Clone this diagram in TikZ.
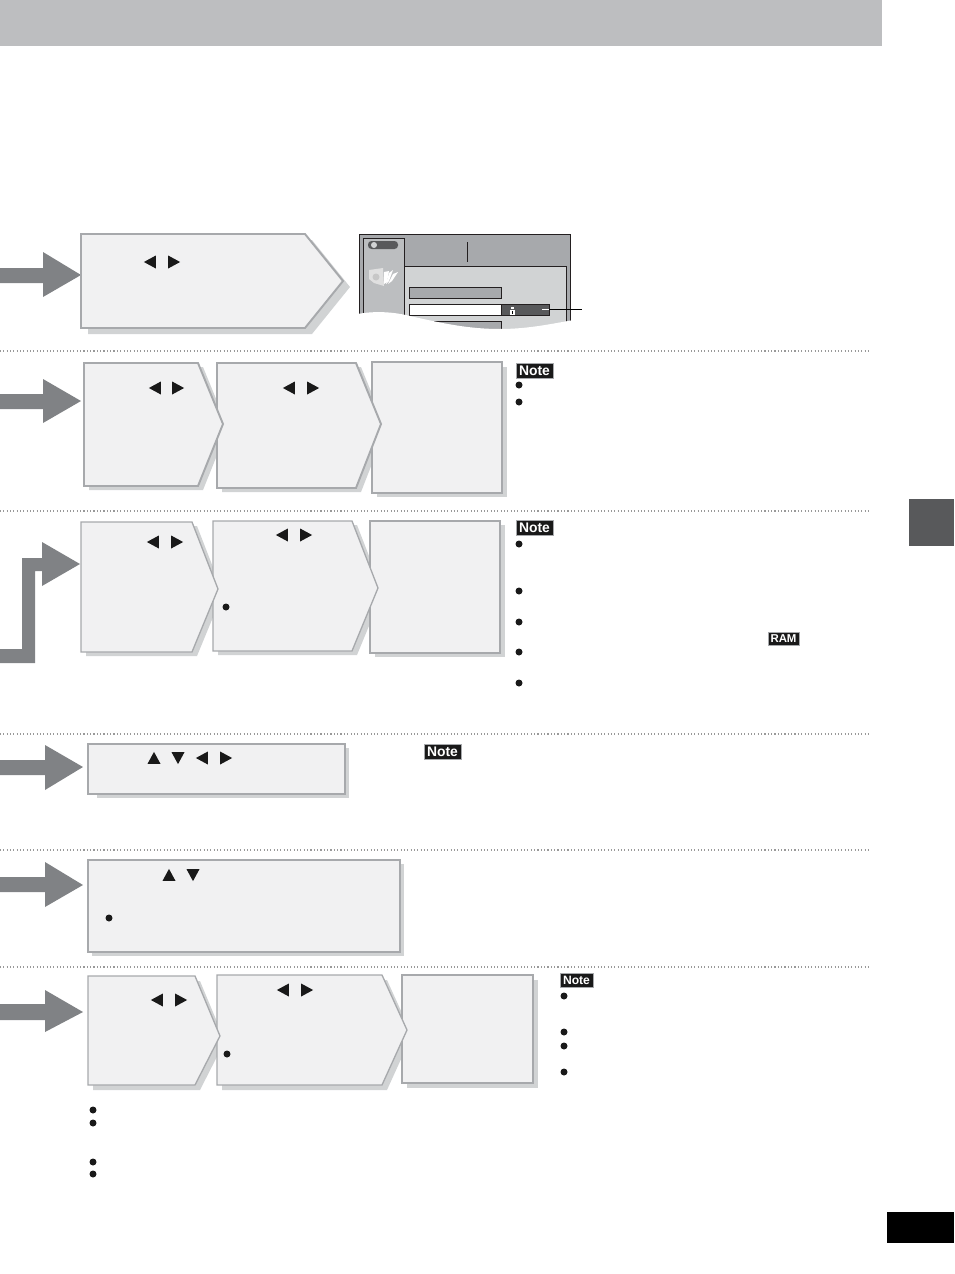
\documentclass[tikz,border=0pt]{standalone}
\usepackage{fontspec}
\setmainfont{Liberation Sans}
\usetikzlibrary{shapes.geometric}
\definecolor{bandgray}{HTML}{BDBEC0}
\definecolor{tabgray}{HTML}{58595B}
\definecolor{arrowgray}{HTML}{808285}
\definecolor{boxfill}{HTML}{F1F1F2}
\definecolor{boxline}{HTML}{A7A9AC}
\definecolor{shadegray}{HTML}{D1D3D4}
\definecolor{screengray}{HTML}{A7A9AC}
\definecolor{panelgray}{HTML}{BCBEC0}
\definecolor{screenline}{HTML}{231F20}
\tikzset{
  tri/.style={isosceles triangle,isosceles triangle stretches,fill=black!90,inner sep=0pt,minimum height=12*0.02cm,minimum width=13*0.02cm,anchor=center},
  triL/.style={tri,shape border rotate=180,xshift=2*0.02cm},
  triR/.style={tri,shape border rotate=0,xshift=-2*0.02cm},
  triU/.style={tri,shape border rotate=90,yshift=-2*0.02cm},
  triD/.style={tri,shape border rotate=270,yshift=2*0.02cm},
  dot/.style={circle,fill=black!90,inner sep=0pt,minimum size=7*0.02cm},
  tag/.style={fill=black!90,text=white,draw=boxline,line width=0.3pt,font=\bfseries\fontsize{7.9}{8}\selectfont,inner sep=0pt,minimum height=15*0.02cm,minimum width=37*0.02cm},
  box/.style={fill=boxfill,draw=boxline,line width=1.1pt,line join=miter},
  thinbox/.style={fill=boxfill,draw=boxline,line width=0.75pt},
  shade/.style={fill=shadegray},
  bigarrow/.style={fill=arrowgray},
  rowline/.style={draw=black!40,line width=0.7pt,dash pattern=on 0.6pt off 1.3pt},
  screenbox/.style={draw=screenline,line width=0.5pt}
}
\begin{document}
\begin{tikzpicture}[x=0.02cm,y=-0.02cm]
\useasboundingbox (0,0) rectangle (954,1274);

\fill[bandgray] (0,0) rectangle (882,46);
\fill[tabgray] (909,499) rectangle (954,546);
\fill[black] (887,1212) rectangle (954,1243);

\coordinate (lineastart) at (0,351);
\coordinate (lineaend) at (870,351);
\coordinate (linebstart) at (0,511);
\coordinate (linebend) at (870,511);
\coordinate (linecstart) at (0,734);
\coordinate (linecend) at (870,734);
\coordinate (linedstart) at (0,850);
\coordinate (linedend) at (870,850);
\coordinate (lineestart) at (0,967);
\coordinate (lineeend) at (870,967);
\draw[rowline] (lineastart) -- (lineaend);
\draw[rowline] (linebstart) -- (linebend);
\draw[rowline] (linecstart) -- (linecend);
\draw[rowline] (linedstart) -- (linedend);
\draw[rowline] (lineestart) -- (lineeend);

\fill[bigarrow] (0,268) -- (43,268) -- (43,252) -- (81,275) -- (43,297) -- (43,283) -- (0,283) -- cycle;
\fill[bigarrow] (0,394) -- (43,394) -- (43,379) -- (81,401) -- (43,423) -- (43,409) -- (0,409) -- cycle;
\fill[bigarrow] (0,649) -- (22,649) -- (22,558) -- (42,558) -- (42,542) -- (80,564) -- (42,586) -- (42,571) -- (35,571) -- (35,663) -- (0,663) -- cycle;
\fill[bigarrow] (0,760) -- (45,760) -- (45,745) -- (83,767) -- (45,790) -- (45,775) -- (0,775) -- cycle;
\fill[bigarrow] (0,877) -- (45,877) -- (45,862) -- (83,885) -- (45,907) -- (45,892) -- (0,892) -- cycle;
\fill[bigarrow] (0,1004) -- (45,1004) -- (45,990) -- (83,1012) -- (45,1032) -- (45,1020) -- (0,1020) -- cycle;

\fill[shade] (88,240) -- (312,240) -- (350,287) -- (312,334) -- (88,334) -- cycle;
\draw[box] (81,234) -- (305,234) -- (343,281) -- (305,328) -- (81,328) -- cycle;

\fill[shade] (89,367) -- (203,367) -- (228,428) -- (203,490) -- (89,490) -- cycle;
\fill[shade] (222,367) -- (361,367) -- (386,428) -- (361,492) -- (222,492) -- cycle;
\fill[shade] (377,367) rectangle (507,497);
\draw[box] (372,362) rectangle (502,493);
\draw[box] (217,363) -- (356,363) -- (381,424) -- (356,488) -- (217,488) -- cycle;
\draw[box] (84,363) -- (198,363) -- (223,424) -- (198,486) -- (84,486) -- cycle;

\fill[shade] (86,526) -- (197,526) -- (223,593) -- (197,656) -- (86,656) -- cycle;
\fill[shade] (218,525) -- (357,525) -- (383,592) -- (357,655) -- (218,655) -- cycle;
\fill[shade] (375,525) rectangle (505,657);
\draw[thinbox] (370,521) rectangle (500,653);
\draw[thinbox] (213,521) -- (352,521) -- (378,588) -- (352,651) -- (213,651) -- cycle;
\draw[thinbox] (81,522) -- (192,522) -- (218,589) -- (192,652) -- (81,652) -- cycle;

\fill[shade] (97,748) rectangle (349,798);
\draw[thinbox] (88,744) rectangle (345,794);

\fill[shade] (92,864) rectangle (404,956);
\draw[thinbox] (88,860) rectangle (400,952);

\fill[shade] (93,981) -- (200,981) -- (225,1041) -- (200,1090) -- (93,1090) -- cycle;
\fill[shade] (222,980) -- (387,980) -- (412,1035) -- (387,1090) -- (222,1090) -- cycle;
\fill[shade] (407,980) rectangle (538,1088);
\draw[thinbox] (402,975) rectangle (533,1083);
\draw[thinbox] (217,975) -- (382,975) -- (407,1030) -- (382,1085) -- (217,1085) -- cycle;
\draw[thinbox] (88,976) -- (195,976) -- (220,1036) -- (195,1085) -- (88,1085) -- cycle;

\path[fill=screengray,screenbox] (359,234) rectangle (570,330);
\path[fill=panelgray,screenbox] (363,238) rectangle (404,330);
\path[fill=shadegray,screenbox] (404,266) rectangle (566,330);
\draw[screenline,line width=0.5pt] (467,242) -- (467,262);
\fill[tabgray,rounded corners=3.5*0.02cm] (368,241) rectangle (398,249);
\fill[shadegray] (374,245) circle (3);
\fill[black!12] (369,270) -- (383,268) -- (384,286) -- (374,283) -- (369,279) -- cycle;
\fill[black!22] (376,277) circle (3.5);
\fill[white] (384,272) -- (389,271) -- (387,282) -- (384,284) -- cycle;
\fill[white] (389,273) -- (393,270) -- (389,281) -- (386,284) -- cycle;
\fill[white] (393,274) -- (398,272) -- (392,281) -- (388,284) -- cycle;
\path[fill=screengray,screenbox] (409,287) rectangle (501,298);
\path[fill=white,screenbox] (409,304) rectangle (501,315);
\path[fill=tabgray,screenbox] (501,304) rectangle (549,315);
\path[fill=screengray,screenbox] (409,321) rectangle (501,330);
\fill[white] (511,307) rectangle (514,309);
\fill[white] (510,310) rectangle (515,315);
\fill[black] (512,311) rectangle (513,314);
\coordinate (fieldend) at (542,309.5);
\coordinate (fieldedge) at (549,309.5);
\coordinate (calloutend) at (582,309.5);
\draw[white,line width=0.7pt] (fieldend) -- (fieldedge);
\draw[black,line width=0.7pt] (fieldedge) -- (calloutend);
\fill[white] (353,315) .. controls (370,311) and (390,311) .. (410,316) .. controls (445,324) and (470,329) .. (500,329) .. controls (530,329) and (555,323) .. (574,320) -- (574,340) -- (353,340) -- cycle;

\path (150,262) node[triL](rowaleft){} (174,262) node[triR](rowaright){}
(155,388) node[triL](rowbleft){} (178,388) node[triR](rowbright){}
(289,388) node[triL](rowcleft){} (313,388) node[triR](rowcright){}
(153,542) node[triL](rowdleft){} (177,542) node[triR](rowdright){}
(282,535) node[triL](rowfleft){} (306,535) node[triR](rowfright){}
(154,758) node[triU](rowgup){} (178,758) node[triD](rowgdown){} (202,758) node[triL](rowgleft){} (226,758) node[triR](rowgright){}
(169,875) node[triU](rowhup){} (193,875) node[triD](rowhdown){}
(157,1000) node[triL](rowjleft){} (181,1000) node[triR](rowjright){}
(283,990) node[triL](rowkleft){} (307,990) node[triR](rowkright){};

\path (519,385) node[dot](notebi){} (519,402) node[dot](notebii){}
(226,607) node[dot](stepcdot){}
(519,544) node[dot](notedi){} (519,591) node[dot](notedii){} (519,622) node[dot](notediii){} (519,652) node[dot](notediv){} (519,683) node[dot](notedv){}
(109,918) node[dot](stephdot){}
(227,1054) node[dot](stepkdot){}
(564,996) node[dot](noteki){} (564,1032) node[dot](notekii){} (564,1046) node[dot](notekiii){} (564,1072) node[dot](notekiv){}
(93,1110) node[dot](endi){} (93,1123) node[dot](endii){} (93,1162) node[dot](endiii){} (93,1174) node[dot](endiv){};

\path (534.5,370.5) node[tag](noteb){Note}
(534.5,528) node[tag](noted){Note}
(442.5,751.5) node[tag](noteg){Note}
(576.5,980) node[tag,minimum width=33*0.02cm,minimum height=14*0.02cm,font=\bfseries\fontsize{6.9}{8}\selectfont](notek){Note}
(783.5,638.5) node[tag,minimum width=31*0.02cm,minimum height=13*0.02cm,font=\bfseries\fontsize{6.5}{8}\selectfont](ramtag){RAM};
\end{tikzpicture}
\end{document}
